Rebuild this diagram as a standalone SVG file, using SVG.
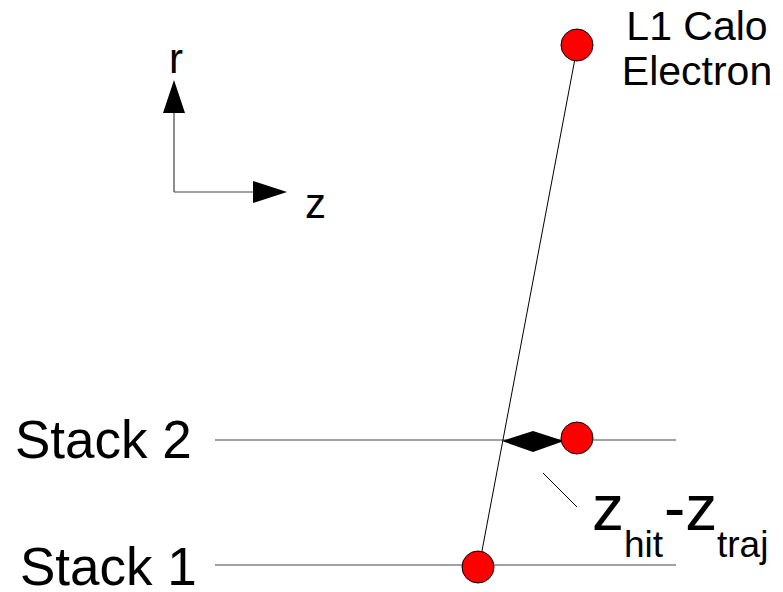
<svg xmlns="http://www.w3.org/2000/svg" width="783" height="592" viewBox="0 0 783 592">
<style>
text { font-family: "Liberation Sans", Arial, sans-serif; fill: #000; }
.thin { stroke: #000; stroke-width: 1; fill: none; }
.grey { stroke: #444; stroke-width: 1.2; fill: none; }
.dot { fill: #ff0000; stroke: #000; stroke-width: 1; }
</style>
<rect width="783" height="592" fill="#fff"/>
<g id="axes">
  <line class="grey" x1="174" y1="192" x2="174" y2="110"/>
  <polygon points="174,80 163,113 185,113" fill="#000"/>
  <line class="grey" x1="174" y1="192" x2="256" y2="192"/>
  <polygon points="287,192 253,181 253,203" fill="#000"/>
  <text x="169" y="73" font-size="42">r</text>
  <text x="305" y="218" font-size="42">z</text>
</g>
<g id="connectors">
  <line class="grey" x1="215" y1="440" x2="676" y2="440"/>
  <line class="grey" x1="215" y1="565" x2="676" y2="565"/>
  <line class="thin" x1="577" y1="48" x2="478" y2="572"/>
  <line class="thin" x1="543" y1="473" x2="577" y2="507"/>
</g>
<g id="stack2-label"><text x="15" y="458" font-size="53">Stack 2</text></g>
<g id="stack1-label"><text x="20" y="585" font-size="53">Stack 1</text></g>
<g id="calo-electron">
  <circle class="dot" cx="577" cy="45" r="16"/>
  <text x="697" y="40" font-size="41" text-anchor="middle">L1 Calo</text>
  <text x="697" y="85" font-size="41" text-anchor="middle">Electron</text>
</g>
<g id="diff-arrow">
  <polygon points="502,441 533,431 564,441 533,452" fill="#000"/>
</g>
<g id="hit-stack2"><circle class="dot" cx="577" cy="438" r="16"/></g>
<g id="hit-stack1"><circle class="dot" cx="478" cy="567" r="16"/></g>
<g id="diff-label">
  <text x="592" y="530" font-size="64">z<tspan font-size="37" x="624" y="557">hit</tspan><tspan x="664" y="530">-z</tspan><tspan font-size="37" x="717" y="557">traj</tspan></text>
</g>
</svg>
